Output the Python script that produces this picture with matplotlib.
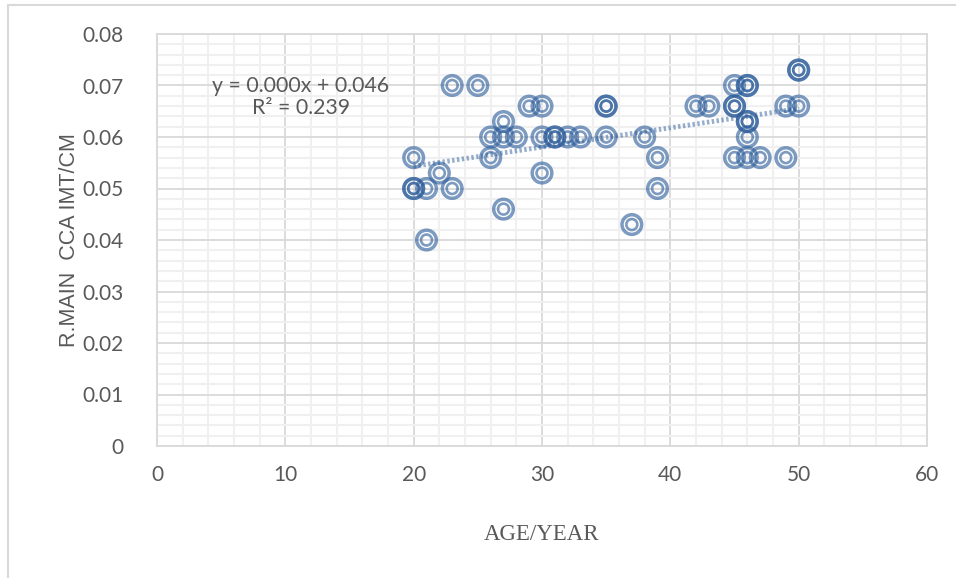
import matplotlib
matplotlib.use("Agg")
import matplotlib.pyplot as plt
import numpy as np
from matplotlib.ticker import MultipleLocator, FixedLocator
from matplotlib.patches import Rectangle

# Data (duplicates drawn darker in the original)
age = [20, 20, 20, 21, 21, 22, 23, 23, 25, 26, 26, 27, 27, 27, 28, 29, 30, 30, 30,
       31, 31, 32, 33, 35, 35, 35, 37, 38, 39, 39, 42, 43, 45, 45, 45, 45, 46, 46,
       46, 46, 46, 46, 47, 49, 49, 50, 50, 50]
imt = [0.056, 0.050, 0.050, 0.050, 0.040, 0.053, 0.050, 0.070, 0.070, 0.060, 0.056,
       0.063, 0.060, 0.046, 0.060, 0.066, 0.066, 0.060, 0.053, 0.060, 0.060, 0.060,
       0.060, 0.066, 0.066, 0.060, 0.043, 0.060, 0.056, 0.050, 0.066, 0.066, 0.070,
       0.066, 0.066, 0.056, 0.070, 0.070, 0.063, 0.063, 0.060, 0.056, 0.056, 0.066,
       0.056, 0.073, 0.073, 0.066]
eq_text = "y = 0.000x + 0.046\nR\u00b2 = 0.239"
xticks = [0, 10, 20, 30, 40, 50, 60]
yticks = [0, 0.01, 0.02, 0.03, 0.04, 0.05, 0.06, 0.07, 0.08]
ytick_labels = ["0", "0.01", "0.02", "0.03", "0.04", "0.05", "0.06", "0.07", "0.08"]

fig = plt.figure(figsize=(9.56, 5.78), dpi=100)
fig.patches.append(Rectangle((8/956, -0.1), 1.2, (578-5)/578 + 0.1, transform=fig.transFigure,
                             fill=False, edgecolor="#D9D9D9", linewidth=1.5))
ax = fig.add_axes([157/956, 1-446/578, (927-157)/956, (446-34)/578])

ax.set_xlim(0, 60)
ax.set_ylim(0, 0.08)
ax.xaxis.set_major_locator(FixedLocator(xticks))
ax.yaxis.set_major_locator(FixedLocator(yticks))
ax.set_yticklabels(ytick_labels)
ax.xaxis.set_minor_locator(MultipleLocator(2))
ax.yaxis.set_minor_locator(MultipleLocator(0.002))
ax.grid(which="minor", color="#F0F0F0", linewidth=1.5, zorder=0)
ax.grid(which="major", color="#D9D9D9", linewidth=1.3, zorder=0)
ax.set_axisbelow(True)
for side in ["top", "left", "right", "bottom"]:
    ax.spines[side].set_color("#D9D9D9")
    ax.spines[side].set_linewidth(1.3)
ax.tick_params(which="both", length=0)
ax.tick_params(axis="both", labelsize=15, labelcolor="#595959")
ax.tick_params(axis="x", pad=14)
ax.tick_params(axis="y", pad=24)
for lab in ax.get_xticklabels() + ax.get_yticklabels():
    lab.set_fontfamily("Lato")

col = "#2E5E9B"
ax.scatter(age, imt, s=200, facecolors="none", edgecolors=col, linewidths=2.5,
           alpha=0.62, zorder=3)
ax.scatter(age, imt, s=62, facecolors="none", edgecolors=col, linewidths=1.9,
           alpha=0.62, zorder=3)

# linear trendline
coef = np.polyfit(age, imt, 1)
xs = np.array([min(age), max(age)])
ax.plot(xs, np.polyval(coef, xs), color=col, linewidth=3.5, linestyle=(0, (0.5, 0.5)),
        alpha=0.5, zorder=2)

ax.text(11.2, 0.0678, eq_text, ha="center", va="center", fontsize=15.3,
        color="#595959", family="Lato", linespacing=1.1)

ax.set_xlabel("AGE/YEAR", fontsize=16.5, color="#595959", family="Liberation Serif", labelpad=28)
ax.set_ylabel("R.MAIN  CCA IMT/CM", fontsize=15.5, color="#595959",
              family="Liberation Sans", labelpad=2)

fig.savefig("out.png", dpi=100)
